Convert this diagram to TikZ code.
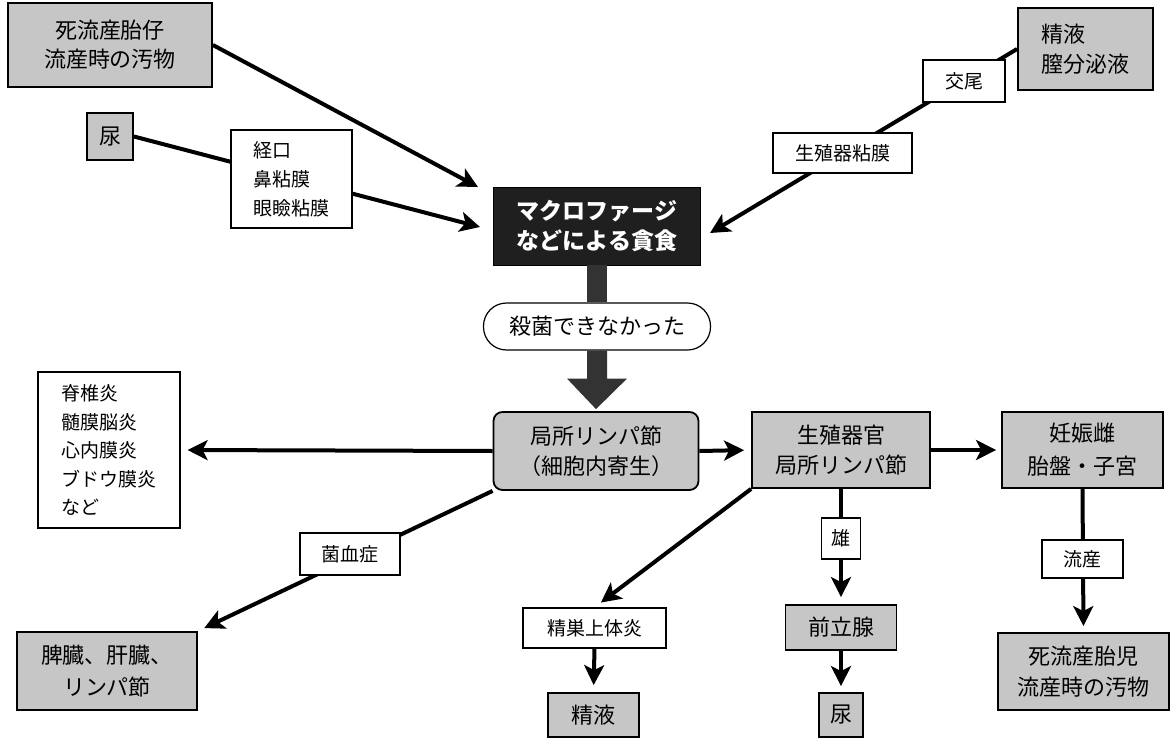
\documentclass[tikz,border=0pt]{standalone}
\usepackage{fontspec}
\setmainfont{Noto Sans CJK JP}
\usetikzlibrary{arrows.meta,calc,backgrounds}
\newcommand\fbig{\fontsize{22}{30}\selectfont}
\newcommand\fsml{\fontsize{19}{29}\selectfont}
\begin{document}
\begin{tikzpicture}[x=1pt,y=-1pt,
  gbox/.style={draw=black, line width=1.8pt, fill=gray!45, align=center, inner sep=0pt, font=\fbig},
  wbox/.style={draw=black, line width=1.2pt, fill=white, align=center, inner sep=0pt, font=\fsml},
  ln/.style={line width=4pt},
  arr/.style={line width=4pt, -{Stealth[length=20pt,width=20pt,inset=5pt]}},
  thick arrow/.style={fill=black!80}
]
\useasboundingbox (0,0) rectangle (1171,739);

% nodes
\node[gbox, minimum width=204pt, minimum height=84pt, font=\fontsize{22}{29}\selectfont] (dead1) at (110,45) {死流産胎仔\\流産時の汚物};
\node[gbox, minimum width=46pt, minimum height=47pt] (urine1) at (110,136.5) {尿};
\node[wbox, minimum width=121pt, minimum height=98pt, align=left] (oral) at (291.5,179) {経口\\鼻粘膜\\眼瞼粘膜};
\node[draw=black, fill=black!88, text=white, inner sep=0pt, align=center, minimum width=207pt, minimum height=78pt, font=\fontsize{23}{30}\selectfont\bfseries] (macro) at (597,226) {マクロファージ\\などによる貪食};
\node[draw=black, line width=1.2pt, fill=white, rounded corners=23pt, inner sep=0pt, minimum width=227pt, minimum height=47pt, font=\fontsize{22}{26}\selectfont] (oval) at (597,326.5) {殺菌できなかった};

\node[gbox, minimum width=135pt, minimum height=82pt, align=left] (sperm1) at (1085.5,49) {精液\\膣分泌液};
\node[wbox, minimum width=82pt, minimum height=42pt] (koubi) at (964,81) {交尾};
\node[wbox, minimum width=139pt, minimum height=40pt] (nenmaku) at (842.5,153) {生殖器粘膜};

\node[wbox, minimum width=142pt, minimum height=156pt, align=left, font=\fontsize{19}{28.5}\selectfont] (list) at (109,450) {脊椎炎\\髄膜脳炎\\心内膜炎\\ブドウ膜炎\\など};
\node[gbox, rounded corners=9pt, minimum width=205pt, minimum height=78pt] (lymph) at (596,451) {局所リンパ節\\（細胞内寄生）};
\node[gbox, minimum width=178pt, minimum height=76pt] (genital) at (841,450) {生殖器官\\局所リンパ節};
\node[gbox, minimum width=161pt, minimum height=76pt, font=\fontsize{22}{33}\selectfont] (preg) at (1082.5,450) {妊娠雌\\胎盤・子宮};
\node[wbox, minimum width=81pt, minimum height=38pt] (ryuzan) at (1082.5,559) {流産};
\node[gbox, minimum width=171pt, minimum height=77pt, font=\fontsize{22}{31}\selectfont] (dead2) at (1083.5,671.5) {死流産胎児\\流産時の汚物};

\node[wbox, minimum width=100pt, minimum height=42pt] (kinketsu) at (350,554) {菌血症};
\node[gbox, minimum width=180pt, minimum height=78pt, font=\fontsize{22}{32}\selectfont] (spleen) at (107,671) {脾臓、肝臓、\\リンパ節};

\node[wbox, minimum width=143pt, minimum height=40pt] (seisou) at (594.5,628) {精巣上体炎};
\node[gbox, minimum width=91pt, minimum height=44pt] (sperm2) at (593.5,715) {精液};
\node[wbox, minimum width=39pt, minimum height=41pt] (osu) at (841,538.5) {雄};
\node[gbox, minimum width=111pt, minimum height=45pt] (prostate) at (841,627.5) {前立腺};
\node[gbox, minimum width=44pt, minimum height=44pt] (urine2) at (841,715) {尿};

\coordinate (m1) at (478,187);
\coordinate (m2) at (480,227);
\coordinate (m3) at (710,233);

% thick arrows
\fill[thick arrow] ($(macro.south)+(-10,0)$) rectangle ($(oval.north)+(10,0)$);
\fill[thick arrow] ($(oval.south)+(-10,0)$) -- ($(oval.south)+(-10,28)$) -- ($(oval.south)+(-30,28)$)
  -- ($(lymph.north)+(0,-2)$) -- ($(oval.south)+(30,28)$) -- ($(oval.south)+(10,28)$) -- ($(oval.south)+(10,0)$) -- cycle;

% connectors
\begin{scope}[on background layer]
\draw[arr] (dead1.east) -- (m1);
\draw[arr] (urine1.east) -- (m2);
\draw[arr] (sperm1.west) -- (m3);
\draw[arr, shorten >=7pt] (lymph.west) -- (list.east);
\draw[arr, shorten >=7pt] (lymph.east) -- (genital.west);
\draw[arr, shorten >=5pt] (genital.east) -- (preg.west);
\draw[arr, shorten >=6pt] (preg.south) -- (dead2.north);
\draw[arr, shorten >=7pt] (lymph.south west) -- (spleen.north east);
\draw[arr, shorten >=8pt] (genital.south west) -- (seisou.north);
\draw[arr, shorten >=7pt] (seisou.south) -- (sperm2.north);
\draw[arr, shorten >=7pt] (genital.south) -- (prostate.north);
\draw[arr, shorten >=6pt] (prostate.south) -- (urine2.north);
\end{scope}
\end{tikzpicture}
\end{document}
